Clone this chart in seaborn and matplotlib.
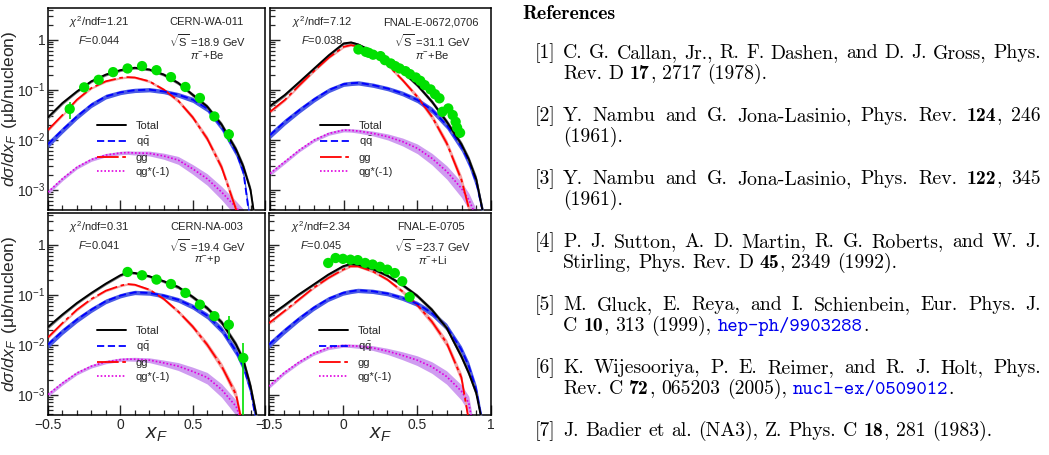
import re
import numpy as np
import matplotlib
matplotlib.use("Agg")
import matplotlib.pyplot as plt
import seaborn as sns
from matplotlib.lines import Line2D
from matplotlib.ticker import LogLocator, MultipleLocator, NullFormatter

# ==== common x grid of the model curves ====
XF = [-0.5, -0.4, -0.3, -0.2, -0.1, 0.0, 0.05, 0.1, 0.2, 0.3, 0.4, 0.5, 0.6, 0.7, 0.8, 0.85, 0.9, 0.95]

# relative half-width of the uncertainty bands
BAND_TOTAL = [0.08, 0.07, 0.06, 0.06, 0.06, 0.06, 0.06, 0.06, 0.06, 0.07, 0.08, 0.09, 0.10, 0.12, 0.14, 0.16, 0.18, 0.20]
BAND_QQ = [0.15, 0.14, 0.13, 0.12, 0.11, 0.10, 0.10, 0.10, 0.10, 0.10, 0.11, 0.12, 0.14, 0.16, 0.19, 0.21, 0.23, 0.25]
BAND_GG = [0.07, 0.06, 0.06, 0.05, 0.05, 0.05, 0.05, 0.05, 0.06, 0.07, 0.09, 0.11, 0.14, 0.17, 0.21, 0.24, 0.26, 0.28]
BAND_QG = [0.10, 0.09, 0.08, 0.08, 0.08, 0.08, 0.08, 0.09, 0.11, 0.14, 0.18, 0.22, 0.26, 0.30, 0.34, 0.36, 0.38, 0.40]

# ==== CERN-WA-011 ====
WA011_TOTAL = [0.028, 0.054, 0.092, 0.147, 0.20, 0.245, 0.262, 0.274, 0.253, 0.20, 0.136, 0.079, 0.046, 0.020, 0.0063, 0.0029, 0.00098, 0.0001]
WA011_QQ = [0.0081, 0.0156, 0.029, 0.0498, 0.073, 0.088, 0.093, 0.097, 0.10, 0.092, 0.079, 0.063, 0.042, 0.018, 0.0057, 0.0023, 0.0002, 0.0001]
WA011_GG = [0.0156, 0.031, 0.063, 0.108, 0.147, 0.172, 0.178, 0.175, 0.147, 0.100, 0.060, 0.028, 0.0105, 0.0028, 0.0004, 0.0001, 0.0001, 0.0001]
WA011_QG = [0.00089, 0.00165, 0.0028, 0.0040, 0.0049, 0.0054, 0.0055, 0.0054, 0.0053, 0.0047, 0.0039, 0.0026, 0.00165, 0.00089, 0.00044, 0.0003, 0.0001, 0.0001]
WA011_X = [-0.35, -0.25, -0.15, -0.05, 0.05, 0.15, 0.25, 0.35, 0.45, 0.55, 0.65, 0.75]
WA011_Y = [0.041, 0.111, 0.157, 0.224, 0.265, 0.296, 0.245, 0.178, 0.113, 0.068, 0.029, 0.0127]
WA011_ERR = [0.015, 0.008, 0.008, 0.010, 0.010, 0.010, 0.009, 0.007, 0.005, 0.003, 0.002, 0.0038]

# ==== FNAL-E-0672,0706 ====
E672_TOTAL = [0.047, 0.078, 0.143, 0.265, 0.49, 0.84, 0.88, 0.80, 0.57, 0.36, 0.23, 0.123, 0.057, 0.0227, 0.0080, 0.0040, 0.0016, 0.0003]
E672_QQ = [0.0123, 0.0227, 0.039, 0.064, 0.098, 0.129, 0.134, 0.137, 0.123, 0.105, 0.084, 0.062, 0.039, 0.0195, 0.0072, 0.0036, 0.0014, 0.0003]
E672_GG = [0.036, 0.062, 0.123, 0.238, 0.44, 0.72, 0.78, 0.72, 0.53, 0.31, 0.155, 0.072, 0.0286, 0.0084, 0.00155, 0.00042, 0.0001, 0.0001]
E672_QG = [0.0021, 0.0036, 0.0062, 0.0098, 0.0133, 0.0155, 0.0153, 0.0148, 0.0133, 0.0114, 0.0091, 0.0067, 0.0042, 0.0023, 0.00105, 0.00062, 0.00029, 0.0001]
E672_X = [0.10, 0.15, 0.17, 0.20, 0.25, 0.28, 0.32, 0.35, 0.38, 0.42, 0.45, 0.49, 0.52, 0.55, 0.59, 0.62, 0.65, 0.67, 0.71, 0.74, 0.76, 0.77, 0.79]
E672_Y = [0.636, 0.571, 0.545, 0.50, 0.468, 0.389, 0.334, 0.295, 0.265, 0.234, 0.204, 0.175, 0.150, 0.123, 0.101, 0.081, 0.067, 0.036, 0.042, 0.031, 0.0227, 0.0173, 0.0137]
E672_ERR = [0.03, 0.03, 0.03, 0.03, 0.02, 0.02, 0.02, 0.02, 0.02, 0.015, 0.015, 0.012, 0.01, 0.01, 0.008, 0.007, 0.006, 0.005, 0.005, 0.004, 0.004, 0.003, 0.003]

# ==== CERN-NA-003 ====
NA3_TOTAL = [0.0226, 0.040, 0.068, 0.108, 0.166, 0.244, 0.28, 0.271, 0.233, 0.185, 0.142, 0.090, 0.054, 0.028, 0.010, 0.005, 0.00147, 0.00028]
NA3_QQ = [0.010, 0.0185, 0.0316, 0.050, 0.074, 0.0955, 0.104, 0.111, 0.108, 0.0955, 0.079, 0.058, 0.038, 0.020, 0.0074, 0.0037, 0.00126, 0.00019]
NA3_GG = [0.014, 0.027, 0.050, 0.082, 0.120, 0.151, 0.163, 0.158, 0.126, 0.082, 0.046, 0.023, 0.010, 0.0037, 0.001, 0.0002, 0.0001, 0.0001]
NA3_QG = [0.001, 0.0017, 0.0027, 0.0037, 0.0045, 0.005, 0.0051, 0.0051, 0.0049, 0.0043, 0.0037, 0.0029, 0.0022, 0.00126, 0.00058, 0.00023, 0.0001, 0.0001]
NA3_X = [0.05, 0.15, 0.25, 0.35, 0.45, 0.55, 0.65, 0.75, 0.85]
NA3_Y = [0.284, 0.244, 0.20, 0.163, 0.108, 0.063, 0.037, 0.025, 0.0054]
NA3_ERR = [0.010, 0.008, 0.007, 0.006, 0.004, 0.003, 0.003, 0.012, 0.0053]

# ==== FNAL-E-0705 ====
E705_TOTAL = [0.037, 0.060, 0.10, 0.158, 0.251, 0.369, 0.41, 0.398, 0.326, 0.24, 0.158, 0.0955, 0.050, 0.0216, 0.0058, 0.0027, 0.00108, 0.0002]
E705_QQ = [0.010, 0.0185, 0.0326, 0.054, 0.082, 0.108, 0.116, 0.122, 0.117, 0.105, 0.086, 0.066, 0.043, 0.023, 0.0079, 0.0037, 0.00126, 0.0002]
E705_GG = [0.027, 0.046, 0.079, 0.136, 0.215, 0.316, 0.369, 0.369, 0.293, 0.20, 0.117, 0.063, 0.029, 0.0108, 0.0022, 0.0003, 0.0001, 0.0001]
E705_QG = [0.00147, 0.0027, 0.0044, 0.0066, 0.0086, 0.0096, 0.0095, 0.0093, 0.0086, 0.0074, 0.0061, 0.0049, 0.0036, 0.0023, 0.00117, 0.00068, 0.0001, 0.0001]
E705_X = [-0.1, -0.05, 0.0, 0.05, 0.1, 0.15, 0.2, 0.25, 0.3, 0.35, 0.4, 0.45]
E705_Y = [0.43, 0.54, 0.52, 0.50, 0.49, 0.43, 0.40, 0.36, 0.316, 0.27, 0.185, 0.090]
E705_ERR = [0.03, 0.03, 0.03, 0.03, 0.03, 0.025, 0.02, 0.02, 0.02, 0.015, 0.012, 0.008]

# panel labels: chi2/ndf, F, experiment, sqrt(s), beam+target
PANEL_INFO = [
    ("1.21", "0.044", "CERN-WA-011", "18.9", "Be"),
    ("7.12", "0.038", "FNAL-E-0672,0706", "31.1", "Be"),
    ("0.31", "0.041", "CERN-NA-003", "19.4", "p"),
    ("2.34", "0.045", "FNAL-E-0705", "23.7", "Li"),
]

REFS = [
    ["C. G. Callan, Jr., R. F. Dashen, and D. J. Gross, Phys.", "Rev. D **17**, 2717 (1978)."],
    ["Y. Nambu and G. Jona-Lasinio, Phys. Rev. **124**, 246", "(1961)."],
    ["Y. Nambu and G. Jona-Lasinio, Phys. Rev. **122**, 345", "(1961)."],
    ["P. J. Sutton, A. D. Martin, R. G. Roberts, and W. J.", "Stirling, Phys. Rev. D **45**, 2349 (1992)."],
    ["M. Gluck, E. Reya, and I. Schienbein, Eur. Phys. J.", "C **10**, 313 (1999), {{hep-ph/9903288}}."],
    ["K. Wijesooriya, P. E. Reimer, and R. J. Holt, Phys.", "Rev. C **72**, 065203 (2005), {{nucl-ex/0509012}}."],
    ["J. Badier et al. (NA3), Z. Phys. C **18**, 281 (1983)."],
]

sns.set_theme(style="ticks")
plt.rcParams["font.family"] = ["Liberation Sans", "DejaVu Sans"]
plt.rcParams["mathtext.fontset"] = "custom"
plt.rcParams["mathtext.rm"] = "Liberation Sans"
plt.rcParams["mathtext.it"] = "Liberation Sans:italic"
plt.rcParams["mathtext.bf"] = "Liberation Sans:bold"
plt.rcParams["axes.linewidth"] = 1.1

W, H = 1049, 455
fig = plt.figure(figsize=(W / 100, H / 100), dpi=100)

# axes boxes in pixels: left, top, right, bottom
boxes = [(48, 8, 265, 210), (270, 8, 491, 210), (48, 213, 265, 415), (269, 213, 491, 415)]
curves = [
    (WA011_TOTAL, WA011_QQ, WA011_GG, WA011_QG, WA011_X, WA011_Y, WA011_ERR),
    (E672_TOTAL, E672_QQ, E672_GG, E672_QG, E672_X, E672_Y, E672_ERR),
    (NA3_TOTAL, NA3_QQ, NA3_GG, NA3_QG, NA3_X, NA3_Y, NA3_ERR),
    (E705_TOTAL, E705_QQ, E705_GG, E705_QG, E705_X, E705_Y, E705_ERR),
]

for i, (box, cv, info) in enumerate(zip(boxes, curves, PANEL_INFO)):
    l, t, r, b = box
    ax = fig.add_axes([l / W, 1 - b / H, (r - l) / W, (b - t) / H])
    total, qq, gg, qg, dx, dy, derr = cv

    # ==== uncertainty bands ====
    for vals, rel, fc, z in [(qg, BAND_QG, "#cf9cf0", 1), (gg, BAND_GG, "#f3a3a3", 2),
                             (qq, BAND_QQ, "#4a5ae6", 3), (total, BAND_TOTAL, "#7c7c7c", 4)]:
        v, rr = np.array(vals), np.array(rel)
        ax.fill_between(XF, v * (1 - rr), v * (1 + rr), color=fc, lw=0, zorder=z)

    # ==== central lines ====
    sns.lineplot(x=XF, y=qg, ax=ax, color="#e000e0", lw=1.2, linestyle=(0, (1, 1.2)), zorder=5)
    sns.lineplot(x=XF, y=gg, ax=ax, color="#ff0000", lw=1.3, linestyle=(0, (12, 2, 2, 2)), zorder=6)
    sns.lineplot(x=XF, y=qq, ax=ax, color="#0000ff", lw=1.3, linestyle=(0, (4, 2)), zorder=7)
    sns.lineplot(x=XF, y=total, ax=ax, color="black", lw=1.4, zorder=8)

    # ==== data points ====
    ax.errorbar(dx, dy, yerr=derr, fmt="none", ecolor="#00e000", elinewidth=1.2, capsize=0, zorder=9)
    sns.scatterplot(x=dx, y=dy, ax=ax, color="#00e000", s=55, edgecolor="none", zorder=10)

    ax.set_yscale("log")
    ax.set_xlim(-0.5, 1.0)
    ax.set_ylim(3.9e-4, 4.3)
    ax.set_xticks([-0.5, 0, 0.5, 1], labels=["\u22120.5", "0", "0.5", "1"])
    ax.xaxis.set_minor_locator(MultipleLocator(0.1))
    ax.set_yticks([1e-3, 1e-2, 1e-1, 1], labels=[r"$10^{-3}$", r"$10^{-2}$", r"$10^{-1}$", "1"])
    ax.yaxis.set_minor_locator(LogLocator(base=10, subs=np.arange(2, 10)))
    ax.yaxis.set_minor_formatter(NullFormatter())
    ax.tick_params(which="major", direction="in", length=7, width=1, labelsize=10, pad=2,
                   top=False, right=False)
    ax.tick_params(which="minor", direction="in", length=3.5, width=0.9, top=False, right=False)
    for s in ax.spines.values():
        s.set_color("black")
    ax.grid(False)

    if i < 2:
        ax.tick_params(labelbottom=False)
    else:
        ax.set_xlabel(r"$x_{F}$", fontsize=15)
        ax.xaxis.set_label_coords(0.5, -0.05)
    if i % 2 == 1:
        ax.tick_params(labelleft=False)
    else:
        ax.set_ylabel(r"$d\sigma/dx_{F}\,$ (μb/nucleon)", fontsize=12.5)
        ax.yaxis.set_label_coords(-0.135, 0.5)

    chi2, fv, name, rs, tgt = info
    ax.text(0.235, 0.93, rf"$\chi^{{2}}$/ndf={chi2}", transform=ax.transAxes, ha="center", va="center", fontsize=8)
    ax.text(0.235, 0.84, rf"$F$={fv}", transform=ax.transAxes, ha="center", va="center", fontsize=8)
    ax.text(0.73, 0.93, name, transform=ax.transAxes, ha="center", va="center", fontsize=8)
    ax.text(0.735, 0.84, rf"$\sqrt{{\mathrm{{S}}}}$ ={rs} GeV", transform=ax.transAxes, ha="center", va="center", fontsize=8)
    ax.text(0.735, 0.765, rf"$\pi^{{-}}$+{tgt}", transform=ax.transAxes, ha="center", va="center", fontsize=8)

    handles = [
        Line2D([], [], color="black", lw=1.4),
        Line2D([], [], color="#0000ff", lw=1.3, linestyle=(0, (4, 2))),
        Line2D([], [], color="#ff0000", lw=1.3, linestyle=(0, (12, 2, 2, 2))),
        Line2D([], [], color="#e000e0", lw=1.2, linestyle=(0, (1, 1.2))),
    ]
    ax.legend(handles, ["Total", r"q$\bar{\mathrm{q}}$", "gg", "qg*(-1)"], loc="upper left",
              bbox_to_anchor=(0.225, 0.442), frameon=False, fontsize=8, handlelength=2.6,
              handletextpad=0.9, labelspacing=0.35, borderpad=0, borderaxespad=0)

# ==== References column ====
REF_FS = 14.2
STYLES = {"rm": dict(family="cmr10", color="black"),
          "bf": dict(family="cmb10", color="black"),
          "tt": dict(family="cmtt10", color="#0000ee")}
renderer = fig.canvas.get_renderer()


def parse(line):
    words = [[]]
    for part in re.split(r"(\*\*.*?\*\*|\{\{.*?\}\})", line):
        if not part:
            continue
        if part.startswith("**"):
            style, txt = "bf", part[2:-2]
        elif part.startswith("{{"):
            style, txt = "tt", part[2:-2]
        else:
            style, txt = "rm", part
        for k, c in enumerate(txt.split(" ")):
            if k > 0:
                words.append([])
            if c:
                words[-1].append((c, style))
    return [w for w in words if w]


def put(x, y, s, style, fs=REF_FS):
    return fig.text(x / W, 1 - y / H, s, fontsize=fs, ha="left", va="baseline", **STYLES[style])


def rich_line(x0, y, line, right=None):
    words = parse(line)
    arts, widths = [], []
    for w in words:
        ws = []
        for s, st in w:
            t = put(0, y, s, st)
            ws.append((t, t.get_window_extent(renderer).width))
        arts.append(ws)
        widths.append(sum(p[1] for p in ws))
    space = REF_FS * 0.333 * 100 / 72
    if right is not None and len(words) > 1:
        space = (right - x0 - sum(widths)) / (len(words) - 1)
    x = x0
    for ws, wd in zip(arts, widths):
        xx = x
        for t, pw in ws:
            t.set_x(xx / W)
            xx += pw
        x += wd + space


put(522, 19, "References", "bf", fs=14.2)
for n, entry in enumerate(REFS):
    base = 58 + 63 * n
    put(535, base, f"[{n + 1}]", "rm")
    for k, line in enumerate(entry):
        right = 1041 if (k == 0 and len(entry) > 1) else None
        rich_line(563, base + 21 * k, line, right)

fig.savefig("out.png", dpi=100)
